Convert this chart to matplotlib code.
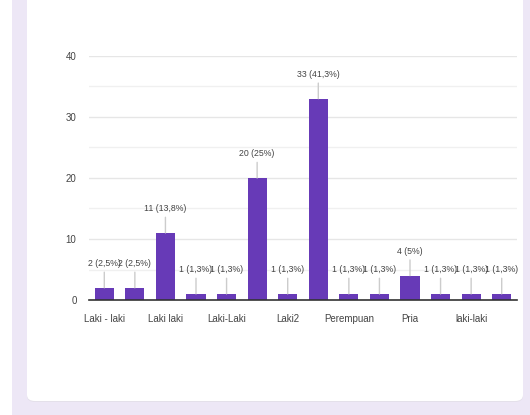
import matplotlib.pyplot as plt
from matplotlib.patches import Rectangle, FancyBboxPatch
from matplotlib.ticker import MultipleLocator

# ============== data ==============
categories = ["Laki - laki", "Laki - Laki", "Laki laki", "Laki laki ", "Laki-Laki",
              "Laki-laki", "Laki2", "Laki-laki ", "Perempuan", "Perempuan ",
              "Pria", "laki laki", "laki-laki", "laki"]
counts = [2, 2, 11, 1, 1, 20, 1, 33, 1, 1, 4, 1, 1, 1]
value_labels = ["2 (2,5%)", "2 (2,5%)", "11 (13,8%)", "1 (1,3%)", "1 (1,3%)",
                "20 (25%)", "1 (1,3%)", "33 (41,3%)", "1 (1,3%)", "1 (1,3%)",
                "4 (5%)", "1 (1,3%)", "1 (1,3%)", "1 (1,3%)"]
y_ticks = [0, 10, 20, 30, 40]

PURPLE = "#673ab7"
LAVENDER = "#ede7f6"
TXT = "#444444"
FONT = ["Liberation Sans", "DejaVu Sans"]

plt.rcParams['font.family'] = FONT

fig = plt.figure(figsize=(5.30, 4.15), dpi=100)
fig.patch.set_facecolor("white")

# page background + card
W, H = 530, 415
fig.patches.append(Rectangle((12 / W, 0), 1, 1, transform=fig.transFigure,
                             facecolor=LAVENDER, edgecolor="none", zorder=-3))
fig.patches.append(FancyBboxPatch((27 / W, 13 / H), (523 - 27) / W, 1.1,
                                  boxstyle="round,pad=0,rounding_size=0.015",
                                  transform=fig.transFigure, facecolor="#e4e0ea",
                                  edgecolor="none", zorder=-2))
fig.patches.append(FancyBboxPatch((27 / W, 14 / H), (523 - 27) / W, 1.1,
                                  boxstyle="round,pad=0,rounding_size=0.015",
                                  transform=fig.transFigure, facecolor="white",
                                  edgecolor="none", zorder=-1))

ax = fig.add_axes([89 / W, 1 - 300 / H, (517 - 89) / W, (300 - 56) / H])
ax.set_facecolor("none")

x = list(range(len(categories)))
ax.bar(x, counts, width=0.63, color=PURPLE, zorder=3)

for xi, c, lab in zip(x, counts, value_labels):
    ax.annotate(lab, xy=(xi, c), xytext=(0, 17.5), textcoords="offset points",
                ha="center", va="center", fontsize=6.3, color=TXT,
                arrowprops=dict(arrowstyle="-", color="#cccccc", lw=1,
                                shrinkA=1, shrinkB=0), zorder=4)

ax.set_xlim(-0.5, len(categories) - 0.5)
ax.set_ylim(0, 40)
ax.set_yticks(y_ticks)
ax.yaxis.set_minor_locator(MultipleLocator(5))
ax.grid(axis="y", which="major", color="#e6e6e6", lw=1, zorder=0)
ax.grid(axis="y", which="minor", color="#f0f0f0", lw=1, zorder=0)
ax.set_xticks(x[::2])
ax.set_xticklabels(categories[::2])
ax.tick_params(axis="both", which="both", length=0, labelsize=7, colors=TXT)
ax.tick_params(axis="x", pad=10)
ax.tick_params(axis="y", pad=9)

for s in ["top", "right", "left"]:
    ax.spines[s].set_visible(False)
ax.spines["bottom"].set_color("#333333")
ax.spines["bottom"].set_linewidth(1.2)
ax.spines["bottom"].set_zorder(5)

fig.savefig("out.png", dpi=100)
